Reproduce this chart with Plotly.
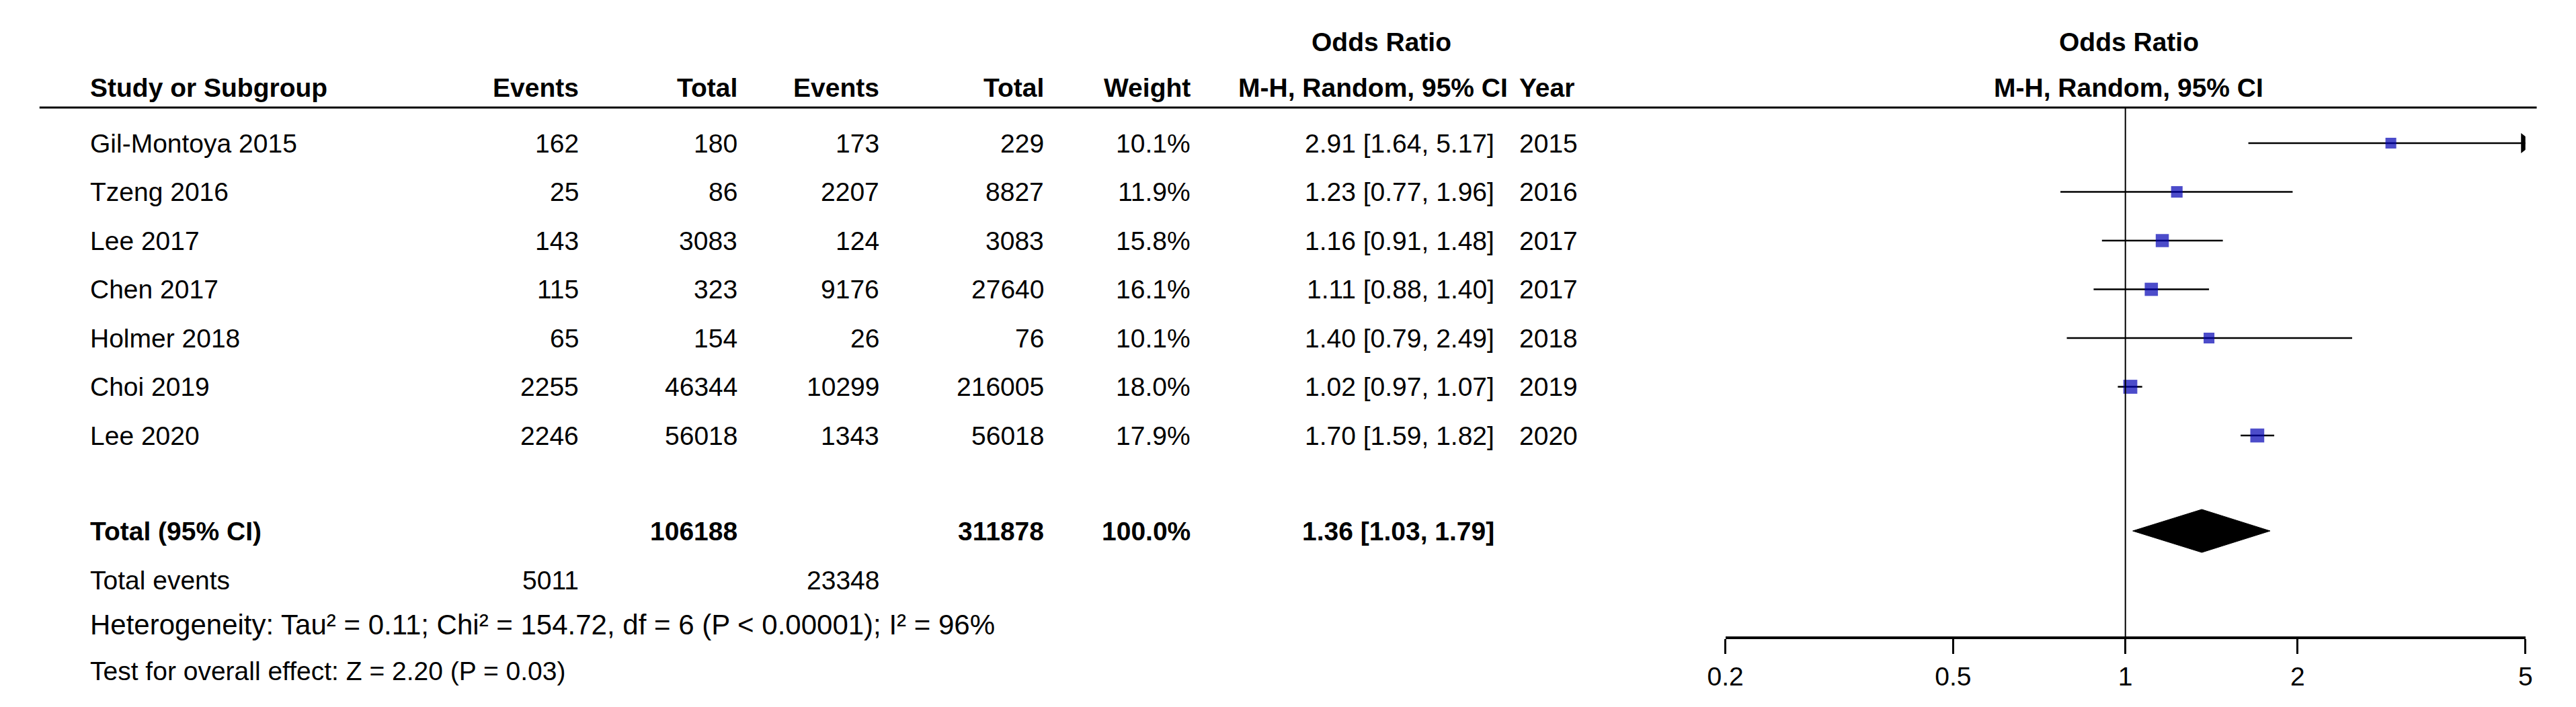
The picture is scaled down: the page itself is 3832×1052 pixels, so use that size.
import plotly.graph_objects as go

studies = ["Gil-Montoya 2015", "Tzeng 2016", "Lee 2017", "Chen 2017", "Holmer 2018", "Choi 2019", "Lee 2020"]
ev1 = [162, 25, 143, 115, 65, 2255, 2246]
tot1 = [180, 86, 3083, 323, 154, 46344, 56018]
ev2 = [173, 2207, 124, 9176, 26, 10299, 1343]
tot2 = [229, 8827, 3083, 27640, 76, 216005, 56018]
weight = [10.1, 11.9, 15.8, 16.1, 10.1, 18.0, 17.9]
orv = [2.91, 1.23, 1.16, 1.11, 1.40, 1.02, 1.70]
lo = [1.64, 0.77, 0.91, 0.88, 0.79, 0.97, 1.59]
hi = [5.17, 1.96, 1.48, 1.40, 2.49, 1.07, 1.82]
years = [2015, 2016, 2017, 2017, 2018, 2019, 2020]
tot_or, tot_lo, tot_hi = 1.36, 1.03, 1.79
tot_n1, tot_n2 = 106188, 311878
tot_e1, tot_e2 = 5011, 23348
ticks = [0.2, 0.5, 1, 2, 5]

W, H = 3832, 1052
FS = 39
FONT = "Liberation Sans, Arial, sans-serif"
fig = go.Figure()
ann = []
def txt(x, y, s, anchor="left", bold=False, size=FS):
    ann.append(dict(x=x / W, y=y, xref="paper", yref="y", text=("<b>%s</b>" % s) if bold else s,
                    showarrow=False, xanchor=anchor, yanchor="middle",
                    font=dict(size=size, color="black", family=FONT)))

cols = [(836, "Events"), (1075, "Total"), (1288, "Events"), (1535, "Total"), (1755, "Weight")]
for x, s in cols:
    txt(x, 122, s, "right", True)
txt(98, 122, "Study or Subgroup", "left", True)
txt(2040, 54, "Odds Ratio", "center", True)
txt(2028, 122, "M-H, Random, 95% CI", "center", True)
txt(2245, 122, "Year", "left", True)
txt(3163, 54, "Odds Ratio", "center", True)
txt(3163, 122, "M-H, Random, 95% CI", "center", True)

y0, step = 205, 72.5
rowy = [y0 + i * step for i in range(len(studies))]
for i, s in enumerate(studies):
    y = rowy[i]
    txt(98, y, s)
    txt(836, y, str(ev1[i]), "right")
    txt(1075, y, str(tot1[i]), "right")
    txt(1288, y, str(ev2[i]), "right")
    txt(1535, y, str(tot2[i]), "right")
    txt(1755, y, "%.1f%%" % weight[i], "right")
    txt(2212, y, "%.2f [%.2f, %.2f]" % (orv[i], lo[i], hi[i]), "right")
    txt(2245, y, str(years[i]))
    xe = min(hi[i], 5)
    fig.add_trace(go.Scatter(x=[lo[i], xe], y=[y, y], mode="lines",
                             line=dict(color="black", width=2.5), showlegend=False))
    if hi[i] > 5:
        fig.add_trace(go.Scatter(x=[5], y=[y], mode="markers", showlegend=False,
                                 marker=dict(symbol="triangle-right", size=26, color="black")))
fig.add_trace(go.Scatter(x=orv, y=rowy, mode="markers", showlegend=False,
                         marker=dict(symbol="square", size=[10 + w * 0.6 for w in weight],
                                     color="#0000B4", line=dict(width=0))))

ty = 782
txt(98, ty, "Total (95% CI)", bold=True)
txt(1075, ty, str(tot_n1), "right", True)
txt(1535, ty, str(tot_n2), "right", True)
txt(1755, ty, "100.0%", "right", True)
txt(2212, ty, "%.2f [%.2f, %.2f]" % (tot_or, tot_lo, tot_hi), "right", True)
txt(98, 855, "Total events")
txt(836, 855, str(tot_e1), "right")
txt(1288, 855, str(tot_e2), "right")
txt(98, 921, "Heterogeneity: Tau² = 0.11; Chi² = 154.72, df = 6 (P < 0.00001); I² = 96%", size=42)
txt(98, 990, "Test for overall effect: Z = 2.20 (P = 0.03)")

dh = 32
fig.add_trace(go.Scatter(x=[tot_lo, tot_or, tot_hi, tot_or, tot_lo], y=[ty, ty - dh, ty, ty + dh, ty],
                         mode="lines", fill="toself", fillcolor="black",
                         line=dict(color="black", width=1), showlegend=False))

fig.add_shape(type="line", xref="paper", yref="y", x0=24 / W, x1=3776 / W, y0=152, y1=152,
              line=dict(color="black", width=3))
fig.add_shape(type="line", xref="x", yref="y", x0=1, x1=1, y0=152, y1=941,
              line=dict(color="black", width=2))

fig.update_layout(
    width=W, height=H, margin=dict(l=0, r=0, t=0, b=0),
    plot_bgcolor="white", paper_bgcolor="white", annotations=ann,
    xaxis=dict(type="log", domain=[2557 / W, 3759 / W], range=[-0.69897, 0.69897],
               anchor="free", position=1 - 941 / H, showline=True, linecolor="black", linewidth=4,
               tickvals=ticks, ticktext=[str(t) for t in ticks], ticks="outside", ticklen=22,
               tickwidth=3, tickcolor="black", showgrid=False, zeroline=False,
               tickfont=dict(size=FS, family=FONT, color="black")),
    yaxis=dict(range=[H, 0], domain=[0, 1], visible=False, showgrid=False),
)
fig.write_html("out.html")
